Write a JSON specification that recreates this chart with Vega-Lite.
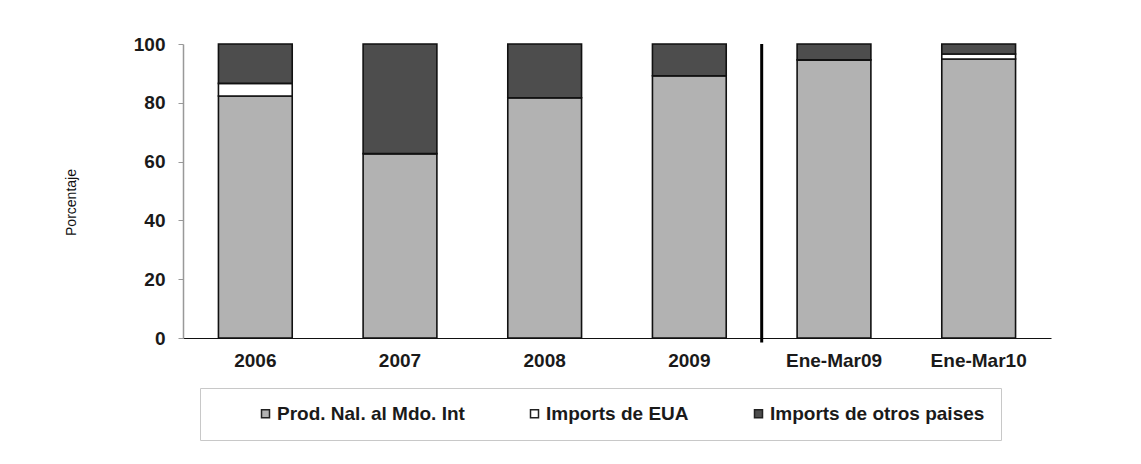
{
  "$schema": "https://vega.github.io/schema/vega-lite/v6.json",
  "autosize": "none",
  "width": 868,
  "height": 294,
  "padding": {"left": 183, "top": 44, "right": 90, "bottom": 126},
  "background": "white",
  "config": {
    "view": {"stroke": null},
    "font": "Liberation Sans"
  },
  "datasets": {
    "bars": [
      {"periodo": "2006", "serie": "Prod. Nal. al Mdo. Int", "orden": 1, "valor": 82.3},
      {"periodo": "2006", "serie": "Imports de EUA", "orden": 2, "valor": 4.3},
      {"periodo": "2006", "serie": "Imports de otros paises", "orden": 3, "valor": 13.4},
      {"periodo": "2007", "serie": "Prod. Nal. al Mdo. Int", "orden": 1, "valor": 62.7},
      {"periodo": "2007", "serie": "Imports de EUA", "orden": 2, "valor": 0.0},
      {"periodo": "2007", "serie": "Imports de otros paises", "orden": 3, "valor": 37.3},
      {"periodo": "2008", "serie": "Prod. Nal. al Mdo. Int", "orden": 1, "valor": 81.7},
      {"periodo": "2008", "serie": "Imports de EUA", "orden": 2, "valor": 0.0},
      {"periodo": "2008", "serie": "Imports de otros paises", "orden": 3, "valor": 18.3},
      {"periodo": "2009", "serie": "Prod. Nal. al Mdo. Int", "orden": 1, "valor": 89.2},
      {"periodo": "2009", "serie": "Imports de EUA", "orden": 2, "valor": 0.0},
      {"periodo": "2009", "serie": "Imports de otros paises", "orden": 3, "valor": 10.8},
      {"periodo": "Ene-Mar09", "serie": "Prod. Nal. al Mdo. Int", "orden": 1, "valor": 94.6},
      {"periodo": "Ene-Mar09", "serie": "Imports de EUA", "orden": 2, "valor": 0.0},
      {"periodo": "Ene-Mar09", "serie": "Imports de otros paises", "orden": 3, "valor": 5.4},
      {"periodo": "Ene-Mar10", "serie": "Prod. Nal. al Mdo. Int", "orden": 1, "valor": 94.9},
      {"periodo": "Ene-Mar10", "serie": "Imports de EUA", "orden": 2, "valor": 1.7},
      {"periodo": "Ene-Mar10", "serie": "Imports de otros paises", "orden": 3, "valor": 3.4}
    ],
    "separador": [
      {"periodo": "Ene-Mar09", "arriba": 100, "abajo": -1.5}
    ]
  },
  "layer": [
    {
      "data": {"name": "bars"},
      "mark": {"type": "bar", "stroke": "#111111", "strokeWidth": 1.6},
      "encoding": {
        "x": {
          "field": "periodo",
          "type": "nominal",
          "sort": null,
          "scale": {"paddingInner": 0.49, "paddingOuter": 0.245},
          "axis": {
            "title": null,
            "labelAngle": 0,
            "labelFont": "Liberation Sans",
            "labelFontWeight": "bold",
            "labelFontSize": 19,
            "labelColor": "#1a1a1a",
            "labelPadding": 13,
            "ticks": false,
            "domainColor": "#111111",
            "domainWidth": 1.2
          }
        },
        "y": {
          "field": "valor",
          "type": "quantitative",
          "stack": "zero",
          "scale": {"domain": [0, 100], "nice": false, "clamp": false},
          "axis": {
            "title": "Porcentaje",
            "titleFont": "Liberation Sans",
            "titleFontWeight": "normal",
            "titleFontSize": 14,
            "titleColor": "#111111",
            "titlePadding": 55,
            "titleY": 158,
            "values": [0, 20, 40, 60, 80, 100],
            "grid": false,
            "labelFont": "Liberation Sans",
            "labelFontWeight": "bold",
            "labelFontSize": 19,
            "labelColor": "#1a1a1a",
            "labelPadding": 13,
            "tickSize": 5,
            "tickColor": "#999999",
            "domainColor": "#999999",
            "domainWidth": 1.5
          }
        },
        "order": {"field": "orden", "type": "quantitative"},
        "color": {
          "field": "serie",
          "type": "nominal",
          "sort": ["Prod. Nal. al Mdo. Int", "Imports de EUA", "Imports de otros paises"],
          "scale": {
            "domain": ["Prod. Nal. al Mdo. Int", "Imports de EUA", "Imports de otros paises"],
            "range": ["#b2b2b2", "#ffffff", "#4d4d4d"]
          },
          "legend": {
            "title": null,
            "orient": "none",
            "legendX": 17,
            "legendY": 344,
            "direction": "horizontal",
            "columns": 3,
            "columnPadding": 20,
            "padding": 16,
            "strokeColor": "#c8c8c8",
            "symbolType": "square",
            "symbolSize": 64,
            "symbolStrokeColor": "#222222",
            "symbolStrokeWidth": 1.5,
            "symbolOffset": 40,
            "labelFont": "Liberation Sans",
            "labelFontWeight": "bold",
            "labelFontSize": 19,
            "labelColor": "#1a1a1a",
            "labelOffset": 2,
            "labelLimit": 400
          }
        }
      }
    },
    {
      "data": {"name": "separador"},
      "mark": {"type": "rule", "color": "#000000", "strokeWidth": 3},
      "encoding": {
        "x": {"field": "periodo", "type": "nominal", "bandPosition": -0.48},
        "y": {"field": "arriba", "type": "quantitative"},
        "y2": {"field": "abajo"}
      }
    }
  ]
}
